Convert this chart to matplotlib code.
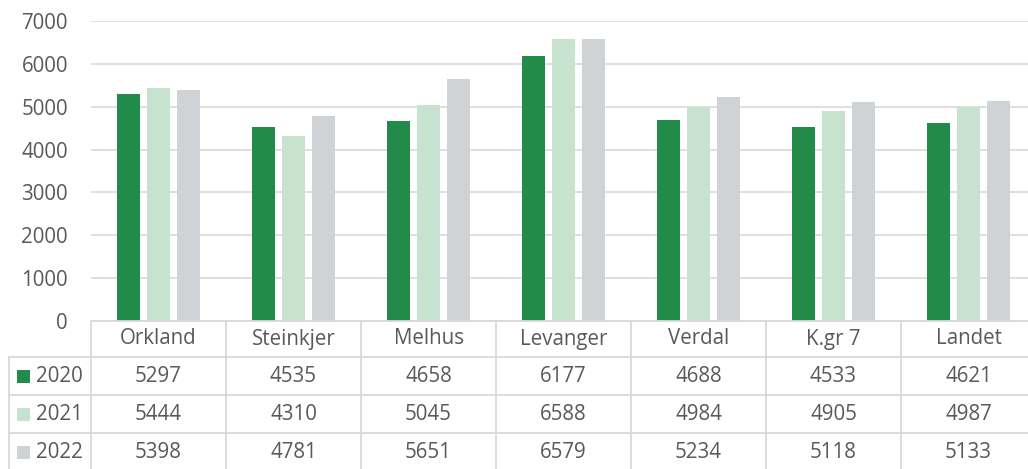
import numpy as np
import matplotlib.pyplot as plt

plt.rcParams['font.family'] = ['Open Sans', 'DejaVu Sans']

kommuner = ["Orkland", "Steinkjer", "Melhus", "Levanger", "Verdal", "K.gr 7", "Landet"]
years = ["2020", "2021", "2022"]
v2020 = [5297, 4535, 4658, 6177, 4688, 4533, 4621]
v2021 = [5444, 4310, 5045, 6588, 4984, 4905, 4987]
v2022 = [5398, 4781, 5651, 6579, 5234, 5118, 5133]
series = [v2020, v2021, v2022]
colors = ["#228B4A", "#C8E2D0", "#D0D3D5"]

txt = "#595959"
line = "#D9D9D9"
W, H = 1028, 469
cat_px = 135.0
fs = 14.8

fig = plt.figure(figsize=(W / 100, H / 100), dpi=100)
ax = fig.add_axes([91 / W, 1 - 321 / H, 1 - 91 / W, 300 / H])

x = np.arange(len(kommuner))
bw = 23 / cat_px
step = 30 / cat_px
for i, vals in enumerate(series):
    ax.bar(x + (i - 1) * step, vals, width=bw, color=colors[i], zorder=3)

xmax = -0.5 + (W - 91) / cat_px
ax.set_xlim(-0.5, xmax)
ax.set_ylim(0, 7000)
ax.set_yticks(range(0, 7001, 1000))
ax.set_xticks([])
ax.grid(axis='y', color=line, lw=1.2, zorder=0)
for s in ax.spines.values():
    s.set_visible(False)
ax.tick_params(axis='y', length=0, pad=16.5, labelsize=fs, labelcolor=txt)

# data table below the plot
tx = fig.add_axes([8 / W, 0, 1 - 8 / W, 148 / H])
xleft = -0.5 - 83 / cat_px
tx.set_xlim(xleft, xmax)
tx.set_ylim(148, 0)
tx.axis('off')

rows = [0, 36, 74, 112, 150]
lw = 1.3
tx.plot([-0.5, xmax], [0, 0], color=line, lw=lw, clip_on=False)
for r in rows[1:4]:
    tx.plot([xleft, xmax], [r, r], color=line, lw=lw)
for k in range(len(kommuner) + 1):
    tx.plot([k - 0.5, k - 0.5], [0, 148], color=line, lw=lw)
tx.plot([xleft + 0.005, xleft + 0.005], [36, 148], color=line, lw=lw)

for j, name in enumerate(kommuner):
    tx.text(j, 18, name, ha='center', va='center', fontsize=fs, color=txt)
for i, vals in enumerate(series):
    yc = (rows[i + 1] + rows[i + 2]) / 2
    for j, v in enumerate(vals):
        tx.text(j, yc, str(v), ha='center', va='center', fontsize=fs, color=txt)
    tx.add_patch(plt.Rectangle((xleft + 9 / cat_px, yc - 6.5), 13 / cat_px, 13,
                               color=colors[i], lw=0))
    tx.text(xleft + 28 / cat_px, yc, years[i], ha='left', va='center',
            fontsize=fs, color=txt)

fig.savefig("out.png", dpi=100)
